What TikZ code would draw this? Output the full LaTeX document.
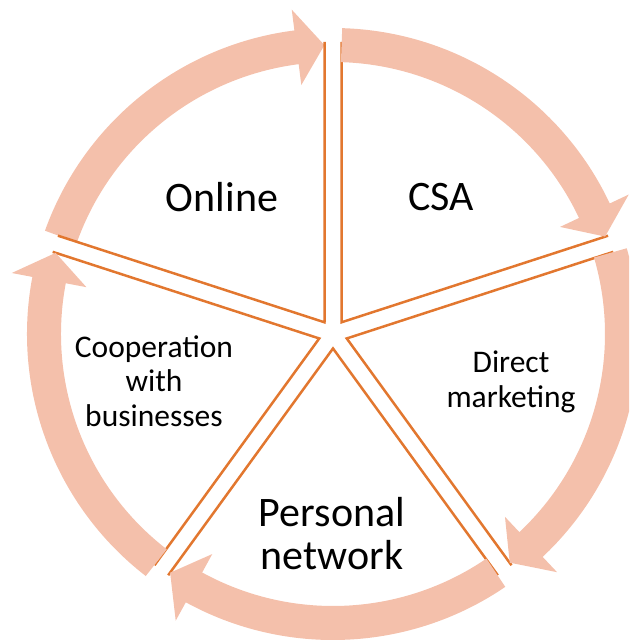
\documentclass[tikz,border=0pt]{standalone}
\usepackage{fontspec}
\setmainfont{Carlito}
\definecolor{saumon}{HTML}{F4C0AB}
\definecolor{trait}{HTML}{E2772F}

\begin{document}
\begin{tikzpicture}[x=1pt,y=1pt]
  \tikzstyle{fleche}=[draw=saumon, line width=34pt];
  \tikzstyle{pointe}=[fill=saumon];
  \tikzstyle{bord}=[draw=trait, line width=2.5pt];
  \tikzstyle{grand}=[align=center, inner sep=0, font=\fontsize{42}{43}\selectfont];
  \tikzstyle{petit}=[align=center, inner sep=0, font=\fontsize{31.5}{34.5}\selectfont];

  \clip (-333,-308) rectangle (296,334);
  \coordinate (O) at (0,0);

  \foreach \k in {0,...,4} {
    \begin{scope}[rotate=-72*\k]
      \fill[pointe] (97.25:251) -- (91.7:289) -- (97.25:327) -- cycle;
      \draw[fleche] (160.3:289) arc[start angle=160.3, end angle=97, radius=289];
      \draw[bord] (8.5,292) -- (8.5,11.7) -- (275.1,98.3);
    \end{scope}
  }

  \node[grand] (online) at (-111,137) {Online};
  \node[grand] (csa) at (108,137) {CSA};
  \node[petit] (coop) at (-179,-47) {Cooperation\\with\\businesses};
  \node[petit] (direct) at (178,-48) {Direct\\marketing};
  \node[grand] (reseau) at (-1,-200) {Personal\\network};
\end{tikzpicture}
\end{document}
